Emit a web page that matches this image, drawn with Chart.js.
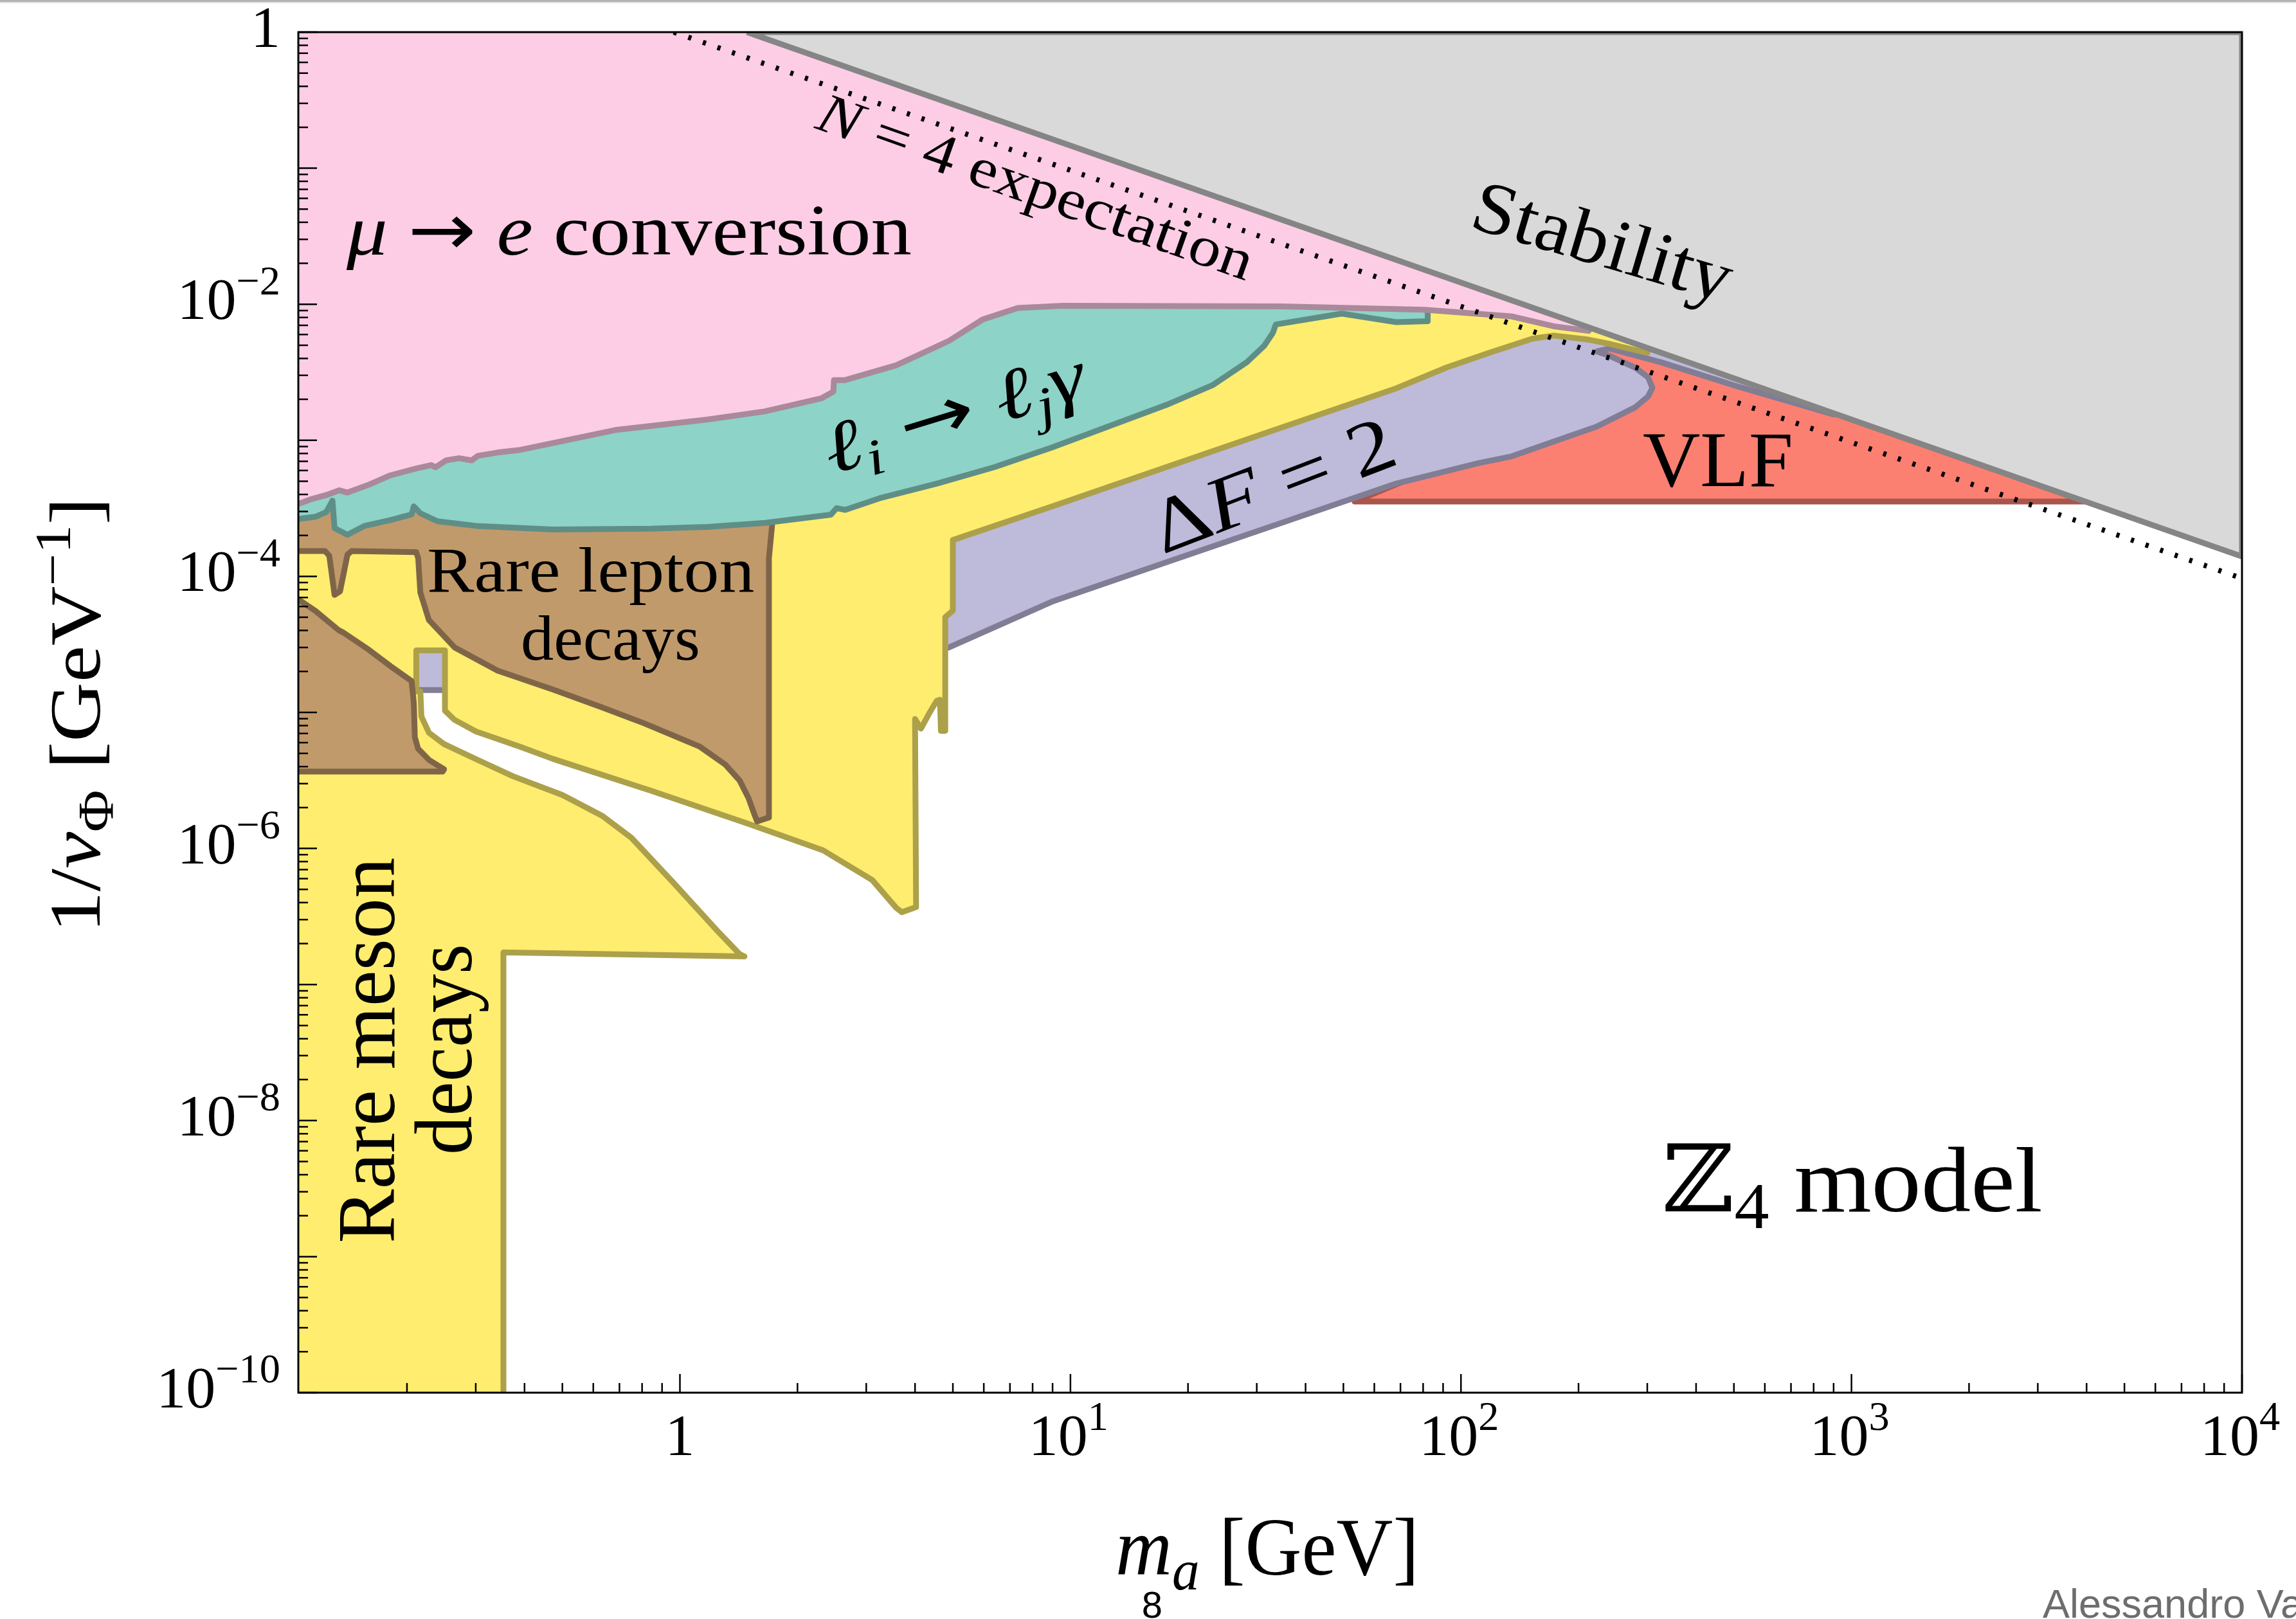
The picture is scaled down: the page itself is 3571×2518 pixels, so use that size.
<!DOCTYPE html>
<html>
<head>
<meta charset="utf-8">
<title>Z4 model</title>
<script src="https://cdn.jsdelivr.net/npm/chart.js@4.4.1/dist/chart.umd.min.js"></script>
<style>
  html, body { margin: 0; padding: 0; background: #fff; }
  canvas { display: block; }
</style>
</head>
<body>
<canvas id="chart" width="3571" height="2518"></canvas>
<script>
// axis ranges: m_a [GeV] and 1/v_Phi [GeV^-1]
const massRange = [0.1054, 1e4];
const couplingRange = [1e-10, 1];

// tick labels (powers of ten) and minor tick steps
const xLabelPowers = [0, 1, 2, 3, 4];
const yLabelPowers = [0, -2, -4, -6, -8, -10];
const xDecades = [-1, 0, 1, 2, 3, 4];
const yDecades = [0, -1, -2, -3, -4, -5, -6, -7, -8, -9, -10];
const minorSteps = [2, 3, 4, 5, 6, 7, 8, 9];

// region boundaries as [m_a, 1/v] pairs (points off the frame close the shapes)
const stability = [[1.485, 1], [10000, 1.4e-4], [10000, 1], [1.485, 1]];
const n4Expectation = [[0.964, 1], [10000, 9.66e-5]];

const muEConversion = [
  [0.0664, 3.33e-4], [0.1058, 3.42e-4], [0.1133, 3.68e-4], [0.1243, 3.96e-4], [0.1342, 4.29e-4],
  [0.1408, 4.13e-4], [0.160, 4.73e-4], [0.1815, 5.53e-4], [0.2113, 6.21e-4], [0.2307, 6.58e-4],
  [0.2366, 6.34e-4], [0.2519, 7.12e-4], [0.2717, 7.39e-4], [0.2928, 7.12e-4], [0.304, 7.69e-4],
  [0.3408, 8.13e-4], [0.3867, 8.47e-4], [0.683, 1.19e-3], [1.176, 1.42e-3], [1.647, 1.63e-3],
  [2.307, 2.04e-3], [2.471, 2.28e-3], [2.48, 2.77e-3], [2.647, 2.77e-3], [3.58, 3.56e-3],
  [4.89, 5.39e-3], [5.96, 7.73e-3], [7.33, 9.39e-3], [9.58, 9.75e-3], [34.7, 9.66e-3],
  [80.7, 9.12e-3], [134.5, 8.15e-3], [172.7, 6.89e-3], [212.5, 6.37e-3],
  [300, 0.05], [300, 5], [0.05, 5]
];

const radiativeLFV = [
  [0.0664, 2.54e-4], [0.1053, 2.64e-4], [0.1165, 2.74e-4], [0.1243, 2.97e-4], [0.1289, 3.60e-4],
  [0.1305, 2.26e-4], [0.1408, 2.02e-4], [0.1558, 2.35e-4], [0.1815, 2.59e-4], [0.2055, 2.85e-4],
  [0.2082, 3.27e-4], [0.2164, 2.91e-4], [0.2394, 2.54e-4], [0.3006, 2.35e-4], [0.4735, 2.21e-4],
  [0.843, 2.24e-4], [1.176, 2.31e-4], [1.65, 2.47e-4], [2.435, 2.84e-4], [2.518, 3.17e-4],
  [2.65, 3.08e-4], [3.245, 3.75e-4], [4.55, 4.81e-4], [6.39, 6.35e-4], [8.96, 8.85e-4],
  [12.57, 1.27e-3], [17.6, 1.82e-3], [23.1, 2.54e-3], [28.3, 3.75e-3], [31.35, 4.96e-3],
  [33.0, 6.18e-3], [33.56, 7.10e-3], [49.5, 8.53e-3], [68.3, 7.39e-3], [82.2, 7.51e-3],
  [82.2, 8.40e-3], [82.2, 1.37e-2], [0.0664, 1.37e-2]
];

const rareLeptonUpper = [
  [0.0664, 1.535e-4], [0.1233, 1.535e-4], [0.1265, 1.418e-4], [0.1305, 7.31e-5], [0.1348, 7.76e-5],
  [0.1408, 1.446e-4], [0.1444, 1.535e-4], [0.2112, 1.505e-4], [0.2137, 1.363e-4], [0.2164, 7.61e-5],
  [0.2276, 4.78e-5], [0.2649, 3.00e-5], [0.3412, 2.03e-5], [0.4735, 1.47e-5], [0.6306, 1.09e-5],
  [0.811, 8.3e-6], [1.126, 5.59e-6], [1.305, 4.15e-6], [1.422, 3.16e-6], [1.498, 2.35e-6],
  [1.55, 1.79e-6], [1.577, 1.58e-6], [1.69, 1.69e-6], [1.69, 1.355e-4], [1.72, 2.3e-4],
  [1.75, 4.83e-4], [0.0664, 4.83e-4]
];

const rareLeptonLower = [
  [0.095, 8.24e-5], [0.1053, 6.78e-5], [0.1165, 5.58e-5], [0.1339, 4.01e-5], [0.1375, 3.86e-5],
  [0.1599, 2.88e-5], [0.1814, 2.19e-5], [0.2055, 1.70e-5], [0.2082, 1.18e-5], [0.2095, 6.58e-6],
  [0.2135, 5.42e-6], [0.2278, 4.47e-6], [0.2489, 3.82e-6], [0.2468, 3.67e-6], [0.09, 3.67e-6]
];

const rareMesonLower = [
  [0.0664, 1.43e-5], [0.2164, 1.43e-5], [0.2178, 9.33e-6], [0.2276, 7.10e-6], [0.2487, 5.86e-6],
  [0.3007, 4.53e-6], [0.3732, 3.40e-6], [0.5004, 2.47e-6], [0.632, 1.74e-6], [0.7509, 1.20e-6],
  [0.964, 5.57e-7], [1.26, 2.40e-7], [1.422, 1.675e-7], [1.463, 1.61e-7], [0.3532, 1.72e-7],
  [0.3532, 1e-12], [0.0664, 1e-12]
];

const rareMesonUpper = [
  [0.2113, 1.43e-5], [0.2113, 2.86e-5], [0.2502, 2.86e-5], [0.2502, 1.03e-5], [0.2649, 8.81e-6],
  [0.3006, 7.24e-6], [0.387, 5.63e-6], [0.4735, 4.55e-6], [0.843, 2.66e-6], [1.505, 1.51e-6],
  [2.326, 9.69e-7], [3.106, 5.87e-7], [3.58, 3.66e-7], [3.70, 3.40e-7], [4.025, 3.71e-7],
  [4.0, 8.95e-6], [4.14, 7.6e-6], [4.375, 1.015e-5], [4.546, 1.216e-5], [4.633, 1.24e-5],
  [4.66, 7.32e-6], [4.78, 7.32e-6], [4.78, 5.01e-5], [5.0, 5.60e-5], [5.0, 1.85e-4],
  [8.96, 3.26e-4], [17.6, 6.35e-4], [34.7, 1.24e-3], [68.3, 2.41e-3], [91.9, 3.43e-3],
  [118.4, 4.41e-3], [152.4, 5.58e-3], [172.9, 5.89e-3], [212.5, 5.49e-3], [242, 5.09e-3],
  [300, 4.39e-3], [372, 0.0419], [372, 5], [0.0664, 5], [0.0664, 2.73e-5]
];

const deltaF2 = [
  [0.2102, 1.46e-5], [0.2466, 1.46e-5], [1.362, 1.84e-5], [4.56, 2.87e-5], [4.875, 3.00e-5],
  [8.96, 6.51e-5], [17.6, 1.27e-4], [34.7, 2.47e-4], [68.3, 4.81e-4], [111.2, 6.81e-4],
  [134, 7.59e-4], [172.9, 9.80e-4], [222.6, 1.26e-3], [279.5, 1.75e-3], [301.3, 2.10e-3],
  [309.2, 2.43e-3], [301.3, 2.91e-3], [279.5, 3.42e-3], [240, 4.18e-3], [222.6, 4.50e-3],
  [240, 4.74e-3], [325, 3.75e-3], [506, 2.51e-3], [898, 1.55e-3], [898, 2.74e-3],
  [222, 8.35e-3], [157, 9.0e-3], [5.0, 2.60e-4], [0.2102, 3.58e-5]
];

const vlf = [[222, 6.48e-3], [3970, 3.55e-4], [53.4, 3.55e-4], [263.6, 2.36e-3]];

// labels placed in data coordinates
const annotations = [
  {parts: [['μ', 'i'], [' ', ''], ['→', 'arrow'], [' ', ''], ['e', 'i'], [' conversion', '']], at: [0.140, 0.0232], size: 112, width: 879, align: 'left'},
  {parts: [['ℓ', 'i'], ['i', 'isub'], [' ', ''], ['→', 'arrow'], [' ', ''], ['ℓ', 'i'], ['j', 'isub'], ['γ', 'i']], at: [5.23, 1.09e-3], size: 112, width: 420, rot: -17},
  {parts: [['Rare lepton', '']], at: [0.591, 7.7e-5], size: 100, width: 509},
  {parts: [['decays', '']], at: [0.664, 2.43e-5], size: 100, width: 279},
  {parts: [['Rare meson', '']], at: [0.1854, 3.28e-8], size: 128, width: 600, rot: -90},
  {parts: [['decays', '']], at: [0.2924, 3.34e-8], size: 128, width: 328, rot: -90},
  {parts: [['Δ', ''], ['F', 'i'], [' = 2', '']], at: [33.3, 4.32e-4], size: 120, width: 397, rot: -21, baseline: 'middle'},
  {parts: [['Stability', '']], at: [229, 0.0267], size: 115, width: 416, rot: 16.5, baseline: 'middle'},
  {parts: [['VLF', '']], at: [455, 4.62e-4], size: 122, width: 234},
  {parts: [['N', 'i'], [' = 4 expectation', '']], at: [8.1, 0.0688], size: 88, width: 713, rot: 19.5, baseline: 'middle'},
  {parts: [['ℤ', ''], ['4', 'sub'], [' model', '']], at: [327, 2.15e-9], size: 145, width: 592, align: 'left'}
];

const SERIF = '"Liberation Serif", "DejaVu Serif", serif';
const SANS = '"Liberation Sans", Arial, sans-serif';

function richText(ctx, parts, x, y, o) {
  const size = o.size;
  const segs = parts.map(([t, s]) => {
    const italic = s[0] === 'i';
    const sub = s.endsWith('sub'), sup = s.endsWith('sup');
    const fs = (sub || sup) ? size * 0.7 : size;
    const fam = s === 'arrow' ? '"DejaVu Sans", sans-serif' : (o.family || SERIF);
    ctx.font = (italic ? 'italic ' : '') + fs + 'px ' + fam;
    return {t, font: ctx.font, w: ctx.measureText(t).width, dy: sub ? size * 0.18 : sup ? -size * 0.42 : 0};
  });
  const total = segs.reduce((s, g) => s + g.w, 0);
  const sx = o.width ? o.width / total : 1;
  ctx.save();
  ctx.translate(x, y);
  if (o.rot) ctx.rotate(o.rot * Math.PI / 180);
  ctx.scale(sx, 1);
  ctx.textBaseline = o.baseline || 'alphabetic';
  ctx.textAlign = 'left';
  ctx.fillStyle = o.color || '#000';
  let cx = o.align === 'left' ? 0 : o.align === 'right' ? -total : -total / 2;
  for (const g of segs) {
    ctx.font = g.font;
    ctx.fillText(g.t, cx, g.dy);
    cx += g.w;
  }
  ctx.restore();
}

function ticksFor(decades, range) {
  const out = [];
  decades.forEach(d => {
    const base = Math.pow(10, d);
    if (base >= range[0] * 0.999 && base <= range[1] * 1.001) out.push({v: base, major: true});
    minorSteps.forEach(m => {
      const v = m * base;
      if (v > range[0] && v < range[1]) out.push({v, major: false});
    });
  });
  return out;
}

const axesAndText = {
  id: 'axesAndText',
  afterDraw(chart) {
    const {ctx, chartArea: a, scales: {x, y}} = chart;
    ctx.save();

    // window edge at the very top
    ctx.fillStyle = '#b4b4b4';
    ctx.fillRect(0, 0, chart.width, 3);
    ctx.fillStyle = '#e2e2e2';
    ctx.fillRect(0, 3, chart.width, 2);

    // frame
    ctx.strokeStyle = '#000';
    ctx.lineWidth = 3;
    ctx.strokeRect(a.left, a.top, a.right - a.left, a.bottom - a.top);

    // inward ticks on the left and bottom axes
    ctx.lineWidth = 2.5;
    ctx.beginPath();
    ticksFor(yDecades, couplingRange).forEach(t => {
      const py = y.getPixelForValue(t.v);
      ctx.moveTo(a.left, py);
      ctx.lineTo(a.left + (t.major ? 29 : 15), py);
    });
    ticksFor(xDecades, massRange).forEach(t => {
      const px = x.getPixelForValue(t.v);
      ctx.moveTo(px, a.bottom);
      ctx.lineTo(px, a.bottom - (t.major ? 29 : 15));
    });
    ctx.stroke();

    // tick labels
    yLabelPowers.forEach(p => {
      const py = y.getPixelForValue(Math.pow(10, p));
      const parts = p === 0 ? [['1', '']] : [['10', ''], ['−' + Math.abs(p), 'sup']];
      richText(ctx, parts, a.left - 28, py + 23, {size: 92, align: 'right'});
    });
    xLabelPowers.forEach(p => {
      const px = x.getPixelForValue(Math.pow(10, p));
      const parts = p === 0 ? [['1', '']] : [['10', ''], [String(p), 'sup']];
      richText(ctx, parts, p === 0 ? px : px - 3, a.bottom + 97, {size: 92, align: 'center'});
    });

    // axis titles
    richText(ctx, [['m', 'i'], ['a', 'isub'], [' [GeV]', '']], 1735, a.bottom + 283, {size: 128, width: 472, align: 'left'});
    richText(ctx, [['1/', ''], ['v', 'i'], ['Φ', 'sub'], [' [GeV', ''], ['−1', 'sup'], [']', '']],
      155, (a.top + a.bottom) / 2 + 4, {size: 112, width: 677, rot: -90});

    // region labels
    annotations.forEach(an => {
      richText(ctx, an.parts, x.getPixelForValue(an.at[0]), y.getPixelForValue(an.at[1]), an);
    });

    // slide footer bits
    richText(ctx, [['8', '']], 1792, 2516, {size: 58, family: SANS});
    richText(ctx, [['Alessandro Va', '']], 3177, 2516, {size: 63, align: 'left', color: '#6d6d6d', family: SANS});
    ctx.restore();
  }
};

function region(points, fillColor, edgeColor) {
  return {
    data: points.map(([x, y]) => ({x, y})),
    fill: 'shape',
    backgroundColor: fillColor,
    borderColor: edgeColor,
    borderWidth: 9,
    borderJoinStyle: 'round',
    pointRadius: 0
  };
}

// back to front
const layers = [
  region(vlf, '#fb8072', '#a8564c'),
  region(deltaF2, '#bebada', '#807d95'),
  region(rareMesonLower, '#ffed6f', '#aca04a'),
  region(rareMesonUpper, '#ffed6f', '#aca04a'),
  region(rareLeptonLower, '#c19a6b', '#7f6548'),
  region(rareLeptonUpper, '#c19a6b', '#7f6548'),
  region(radiativeLFV, '#8dd3c7', '#5f8e87'),
  region(muEConversion, '#fccde5', '#a9899a'),
  region(stability, '#d9d9d9', '#858585'),
  {
    data: n4Expectation.map(([x, y]) => ({x, y})),
    fill: false,
    borderColor: '#000',
    borderWidth: 8,
    borderDash: [5, 19],
    borderCapStyle: 'butt',
    pointRadius: 0
  }
];
layers.forEach((ds, i) => { ds.order = layers.length - i; });

new Chart(document.getElementById('chart'), {
  type: 'line',
  data: {datasets: layers},
  options: {
    responsive: false,
    devicePixelRatio: 1,
    animation: false,
    events: [],
    layout: {padding: {left: 464, right: 84, top: 50, bottom: 352}},
    scales: {
      x: {type: 'logarithmic', min: massRange[0], max: massRange[1], display: false},
      y: {type: 'logarithmic', min: couplingRange[0], max: couplingRange[1], display: false}
    },
    elements: {line: {tension: 0}, point: {radius: 0}},
    plugins: {legend: {display: false}, tooltip: {enabled: false}}
  },
  plugins: [axesAndText]
});
</script>
</body>
</html>
